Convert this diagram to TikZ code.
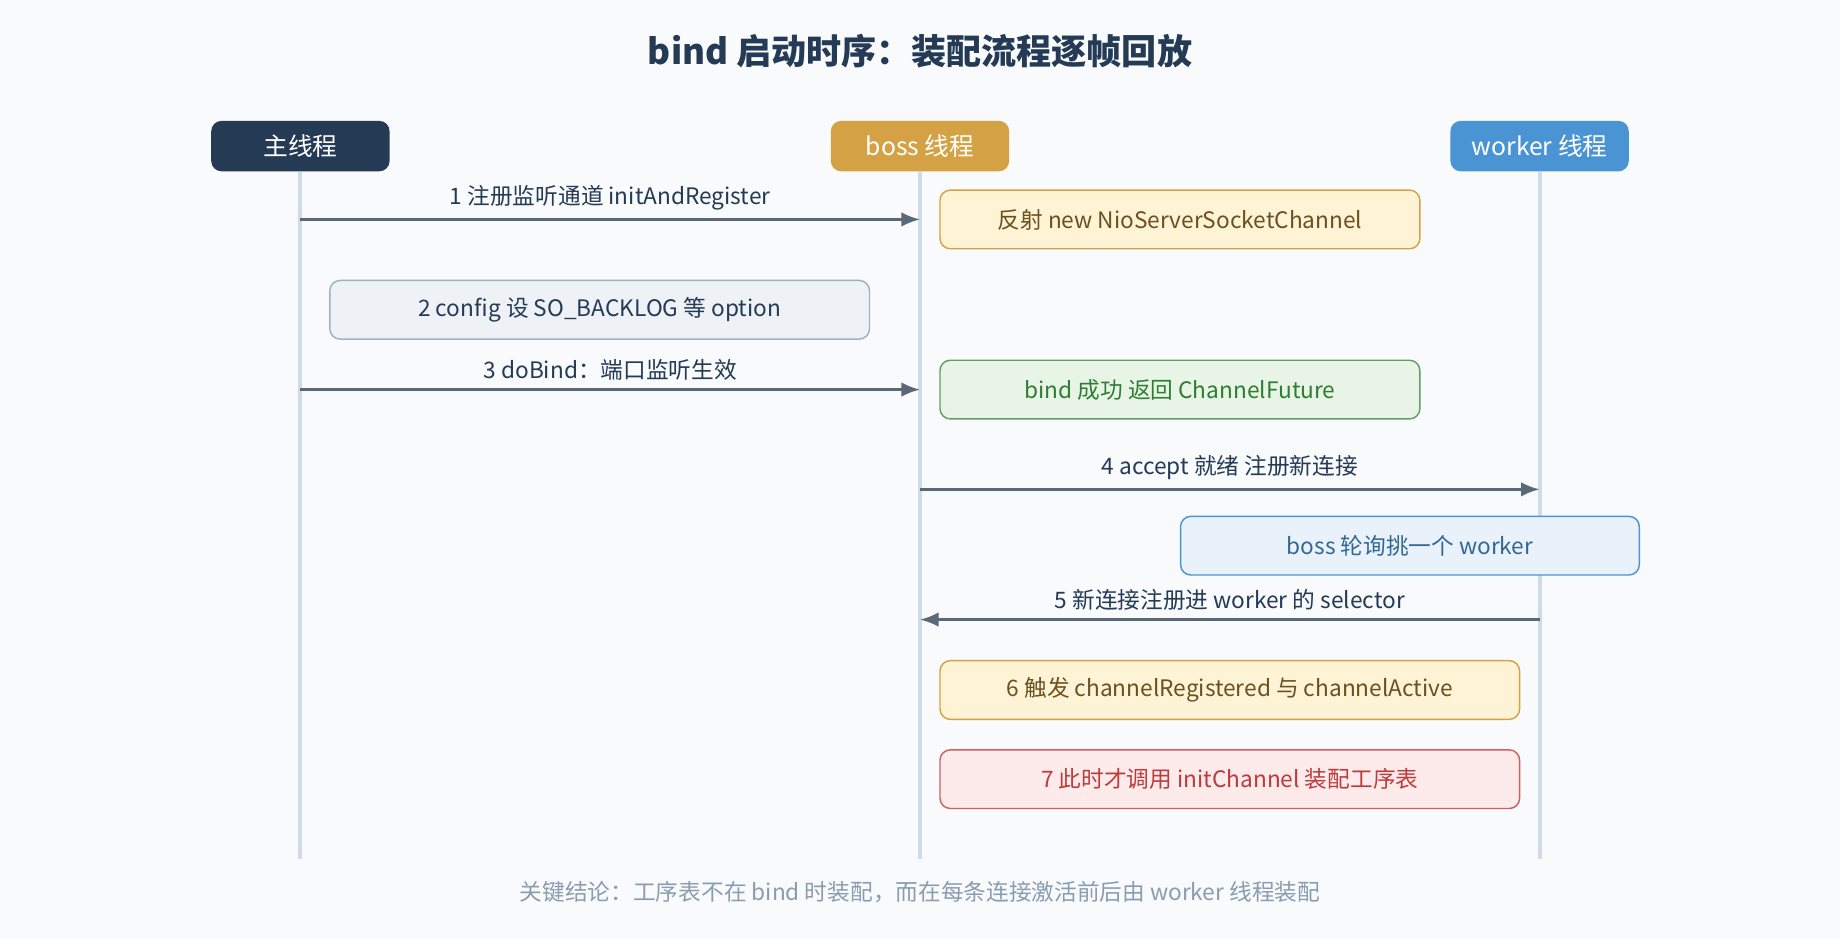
\documentclass[tikz,border=0pt]{standalone}
\usepackage{fontspec}
\setmainfont{Noto Sans CJK SC}
\usetikzlibrary{arrows.meta}
\definecolor{bg}{HTML}{F8FAFC}
\definecolor{navy}{HTML}{243A55}
\definecolor{gold}{HTML}{D4A245}
\definecolor{sky}{HTML}{4A94D4}
\definecolor{life}{HTML}{CFDBE6}
\definecolor{msg}{HTML}{5A6878}
\definecolor{cream}{HTML}{FFF3D6}
\definecolor{mint}{HTML}{E8F5E6}
\definecolor{leaf}{HTML}{2E7D32}
\definecolor{rose}{HTML}{FDEAEA}
\definecolor{brick}{HTML}{C0393B}
\definecolor{fog}{HTML}{EEF2F7}
\definecolor{slate}{HTML}{8A9CB0}
\tikzset{
  head/.style={rounded corners=5pt,minimum width=3.04cm,minimum height=0.86cm,text=white,font=\fontsize{12}{14}\selectfont},
  note/.style={rounded corners=5pt,line width=0.7pt,minimum height=1cm,font=\fontsize{11}{13}\selectfont},
  lbl/.style={font=\fontsize{11}{13}\selectfont,text=navy,anchor=south,inner sep=1pt},
  call/.style={draw=msg,line width=1.2pt,-{Latex[length=9pt,width=7pt]}}
}
\begin{document}
\begin{tikzpicture}[x=0.02cm,y=-0.02cm]
				\fill[bg] (0,0) rectangle (1568,800);
				\node[font=\bfseries\fontsize{17}{20}\selectfont,text=navy] (title) at (784,44) {bind 启动时序：装配流程逐帧回放};
				
				\node[head,fill=navy] (main) at (256,124.5) {主线程};
				\node[head,fill=gold] (boss) at (784,124.5) {boss 线程};
				\node[head,fill=sky] (worker) at (1312,124.5) {worker 线程};
				
				\foreach \n/\x in {main/256,boss/784,worker/1312} {
					\coordinate (\n end) at (\x,732);
					\draw[life,line width=2pt] (\n.south) -- (\n end);
				}
				
				\coordinate (m1a) at (256,187); \coordinate (m1b) at (784,187);
				\coordinate (m3a) at (256,332); \coordinate (m3b) at (784,332);
				\coordinate (m4a) at (784,417); \coordinate (m4b) at (1312,417);
				\coordinate (m5a) at (1312,528); \coordinate (m5b) at (784,528);
				
				\draw[call] (m1a) -- node[lbl,above=3pt] {1 注册监听通道 initAndRegister} (m1b);
				\draw[call] (m3a) -- node[lbl,above=3pt] {3 doBind：端口监听生效} (m3b);
				\draw[call] (m4a) -- node[lbl,above=3pt] {4 accept 就绪 注册新连接} (m4b);
				\draw[call] (m5a) -- node[lbl,above=3pt] {5 新连接注册进 worker 的 selector} (m5b);
				
				\node[note,minimum width=8.18cm,fill=cream,draw=gold,text=gold!50!black] (reflect) at (1005.5,187) {反射 new NioServerSocketChannel};
				\node[note,minimum width=9.2cm,fill=fog,draw=slate!80!white,text=navy] (config) at (511,264) {2 config 设 SO\_BACKLOG 等 option};
				\node[note,minimum width=8.18cm,fill=mint,draw=leaf!75!white,text=leaf] (bound) at (1005.5,332) {bind 成功 返回 ChannelFuture};
				\node[note,minimum width=7.82cm,fill=sky!12!white,draw=sky,text=sky!70!black] (pick) at (1201.5,465) {boss 轮询挑一个 worker};
				\node[note,minimum width=9.88cm,fill=cream,draw=gold,text=gold!50!black] (fire) at (1048,588) {6 触发 channelRegistered 与 channelActive};
				\node[note,minimum width=9.88cm,fill=rose,draw=brick!80!white,text=brick] (init) at (1048,664) {7 此时才调用 initChannel 装配工序表};
				
				\node[font=\fontsize{11}{13}\selectfont,text=slate] (summary) at (784,760) {关键结论：工序表不在 bind 时装配，而在每条连接激活前后由 worker 线程装配};
			\end{tikzpicture}
\end{document}
